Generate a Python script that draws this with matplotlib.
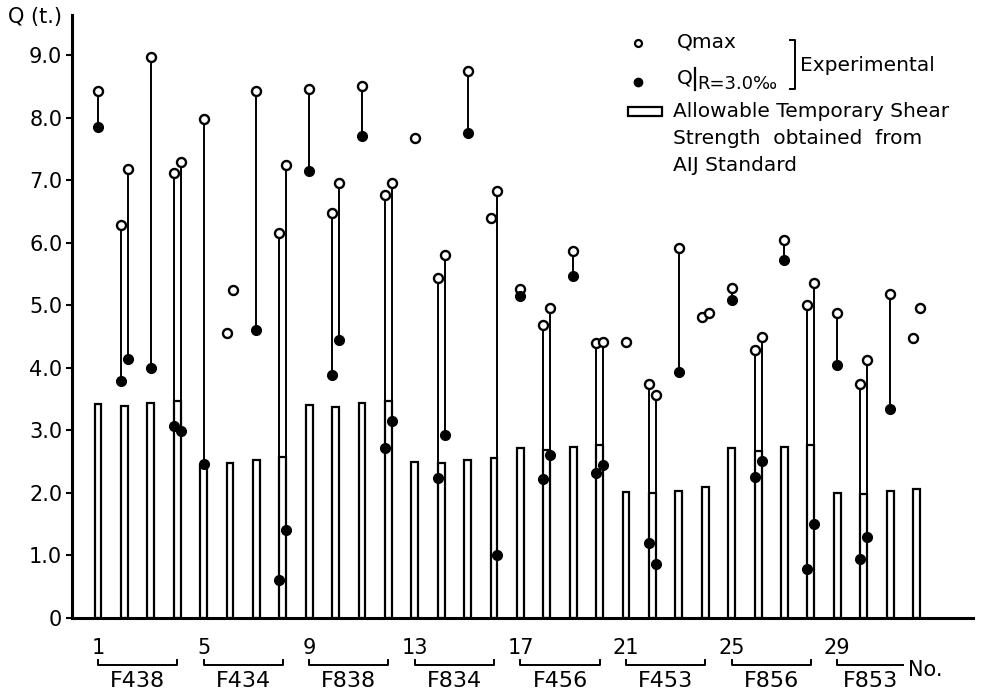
import matplotlib
matplotlib.use("Agg")
import matplotlib.pyplot as plt
import numpy as np
from matplotlib.patches import Rectangle

# Allowable temporary shear strength (AIJ Standard), one bar per specimen
spec_no = list(range(1, 33))
allowable = [3.42, 3.39, 3.44, 3.47, 2.44, 2.48, 2.53, 2.57,
             3.40, 3.38, 3.43, 3.47, 2.50, 2.48, 2.52, 2.55,
             2.72, 2.69, 2.74, 2.76, 2.02, 2.00, 2.03, 2.09,
             2.71, 2.67, 2.73, 2.76, 2.00, 1.98, 2.03, 2.07]

# Experimental results: specimen, which test (C = single, L/R = pair), Qmax, Q at R=3.0
test_spec = [1, 2, 2, 3, 4, 4, 5, 6, 6, 7, 8, 8,
             9, 10, 10, 11, 12, 12, 13, 14, 14, 15, 16, 16,
             17, 18, 18, 19, 20, 20, 21, 22, 22, 23, 24, 24,
             25, 26, 26, 27, 28, 28, 29, 30, 30, 31, 32, 32]
test_side = ["C", "L", "R"] * 16
q_max = [8.43, 6.29, 7.18, 8.97, 7.11, 7.29, 7.98, 4.55, 5.25, 8.43, 6.16, 7.24,
         8.45, 6.47, 6.95, 8.51, 6.77, 6.95, 7.67, 5.44, 5.81, 8.74, 6.39, 6.82,
         5.26, 4.69, 4.96, 5.87, 4.40, 4.41, 4.41, 3.74, 3.57, 5.91, 4.82, 4.87,
         5.27, 4.29, 4.50, 6.05, 5.00, 5.36, 4.87, 3.74, 4.13, 5.18, 4.47, 4.95]
q_r30 = [7.85, 3.79, 4.14, 3.99, 3.07, 2.99, 2.46, None, None, 4.60, 0.60, 1.41,
         7.14, 3.88, 4.45, 7.70, 2.71, 3.15, None, 2.24, 2.92, 7.76, None, 1.01,
         5.15, 2.22, 2.60, 5.47, 2.32, 2.45, None, 1.20, 0.86, 3.93, None, None,
         5.08, 2.26, 2.51, 5.73, 0.78, 1.50, 4.04, 0.95, 1.30, 3.34, None, None]

# Specimen groups along the bottom
group_names = ["F438", "F434", "F838", "F834", "F456", "F453", "F856", "F853"]
group_start = [1, 5, 9, 13, 17, 21, 25, 29]

y_ticks = [0, 1, 2, 3, 4, 5, 6, 7, 8, 9]
y_ticklabels = ["0", "1.0", "2.0", "3.0", "4.0", "5.0", "6.0", "7.0", "8.0", "9.0"]

FS = 15
bar_w = 0.26

fig = plt.figure(figsize=(9.87, 6.94), dpi=100)
ax = fig.add_axes([72 / 987, 76 / 694, 901 / 987, 603 / 694])
ax.set_xlim(0.015, 34.14)
ax.set_ylim(0, 9.64)

# bars
ax.bar(spec_no, allowable, width=bar_w, facecolor="white", edgecolor="black",
       linewidth=1.6, zorder=2)

# experimental points
offset = {"C": 0.0, "L": -bar_w / 2, "R": bar_w / 2}
x = np.array([s + offset[d] for s, d in zip(test_spec, test_side)])
qm = np.array(q_max)
qr = np.array([np.nan if v is None else v for v in q_r30])
has_r = ~np.isnan(qr)

ax.vlines(x[has_r], qr[has_r], qm[has_r], colors="black", linewidth=1.4, zorder=3)
ax.plot(x, qm, "o", mfc="white", mec="black", ms=6.5, mew=1.7, ls="none", zorder=4)
ax.plot(x[has_r], qr[has_r], "o", color="black", ms=7, ls="none", zorder=4)

# axes styling
for side in ["top", "right"]:
    ax.spines[side].set_visible(False)
ax.spines["left"].set_linewidth(2.2)
ax.spines["bottom"].set_linewidth(2.2)
ax.set_xticks([])
ax.set_yticks(y_ticks)
ax.set_yticklabels(y_ticklabels, fontsize=FS)
ax.tick_params(axis="y", direction="out", length=4, width=1.5, pad=3)

fig.text(8 / 987, 1 - 17 / 694, "Q (t.)", fontsize=FS, va="center", ha="left")

# specimen numbers, group brackets and names
for i, (name, start) in enumerate(zip(group_names, group_start)):
    ax.text(start, -0.48, str(start), fontsize=FS, ha="center", va="center", clip_on=False)
    last = i == len(group_names) - 1
    end = start + 2.5 if last else start + 3
    if last:
        ax.plot([start, start, end], [-0.67, -0.75, -0.75], color="black", lw=1.4, clip_on=False)
    else:
        ax.plot([start, start, end, end], [-0.67, -0.75, -0.75, -0.67], color="black",
                lw=1.4, clip_on=False)
    ax.text((start + end) / 2, -1.0, name, fontsize=16, ha="center", va="center", clip_on=False)
ax.text(31.69, -0.83, "No.", fontsize=FS, ha="left", va="center", clip_on=False)

# legend, drawn by hand
LFS = 14.5
ax.plot([21.46], [9.19], "o", mfc="white", mec="black", ms=5, mew=1.6, clip_on=False)
ax.plot([21.46], [8.57], "o", color="black", ms=6, clip_on=False)
ax.text(22.94, 9.21, "Qmax", fontsize=LFS, ha="left", va="center")
ax.text(22.94, 8.63, "Q", fontsize=LFS, ha="left", va="center")
ax.plot([23.6, 23.6], [8.44, 8.79], color="black", lw=1.6)
ax.text(23.7, 8.53, "R=3.0‰", fontsize=13, ha="left", va="center")
ax.plot([27.2, 27.4, 27.4, 27.2], [9.24, 9.24, 8.46, 8.46], color="black", lw=1.4)
ax.text(27.6, 8.84, "Experimental", fontsize=LFS, ha="left", va="center")
ax.add_patch(Rectangle((21.08, 8.02), 1.29, 0.15, facecolor="white", edgecolor="black",
                       linewidth=1.6))
ax.text(22.79, 8.10, "Allowable Temporary Shear", fontsize=LFS, ha="left", va="center")
ax.text(22.79, 7.67, "Strength  obtained  from", fontsize=LFS, ha="left", va="center")
ax.text(22.79, 7.23, "AIJ Standard", fontsize=LFS, ha="left", va="center")

fig.savefig("out.png", dpi=100)
